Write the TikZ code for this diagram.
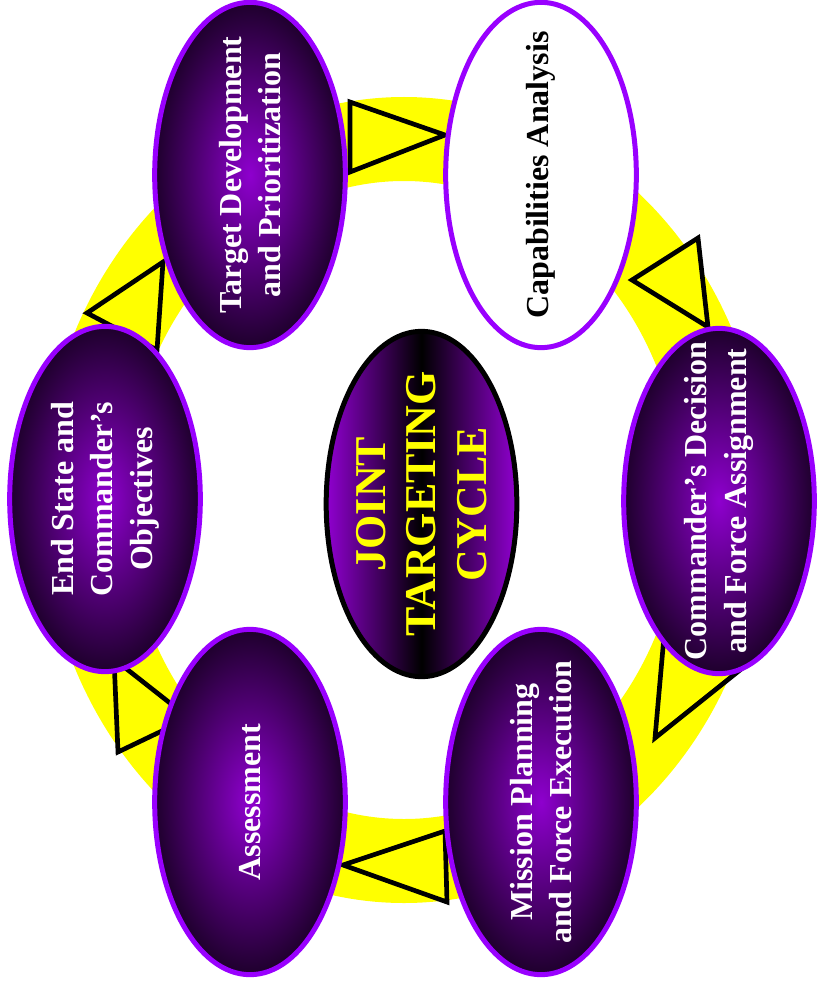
\documentclass[tikz,border=0pt]{standalone}
\usepackage{fontspec}
\setmainfont{Liberation Serif}
\usepackage{tikz}
\usetikzlibrary{shapes, positioning}
\definecolor{ringyellow}{RGB}{255,255,0}
\definecolor{rimviolet}{RGB}{153,0,255}
\definecolor{coreviolet}{RGB}{142,0,206}
\definecolor{deepviolet}{RGB}{30,0,44}
\definecolor{hubviolet}{RGB}{144,0,208}
\tikzset{
    ovalnode/.style = {ellipse, rotate=90, line width=3.75pt, minimum width=259pt, minimum height=143pt, 
      inner sep=-40pt, align=center},
    stagenode/.style = {ovalnode, draw=rimviolet, inner color=coreviolet, outer color=deepviolet, text=white, 
      font=\fontsize{24}{29.5}\selectfont\bfseries},
    whitenode/.style = {ovalnode, draw=rimviolet, fill=white, text=black, font=\fontsize{24}{29.5}\selectfont\bfseries},
    hubnode/.style = {ovalnode, draw=black, left color=hubviolet, right color=hubviolet, middle color=black, 
      text=ringyellow, font=\fontsize{33}{38}\selectfont\bfseries},
    arrowtri/.style = {draw=black, fill=ringyellow, line width=3.5pt, line join=miter},
    every text node part/.style={align=center}
}
\begin{document}
\begin{tikzpicture}[x=0.75pt, y=-0.75pt]
    \useasboundingbox (0,0) rectangle (817,984);
    \fill[ringyellow, even odd rule] (404,500) ellipse [x radius=362, y radius=403] 
      (404,500) ellipse [x radius=278, y radius=319];
    \draw[arrowtri] (350,102) -- (445,135) -- (350,172) -- cycle;
    \draw[arrowtri] (698,238) -- (632,280) -- (708,327) -- cycle;
    \draw[arrowtri] (655,738) -- (665,625) -- (740,670) -- cycle;
    \draw[arrowtri] (343,865) -- (445,831) -- (447,902) -- cycle;
    \draw[arrowtri] (118,752) -- (114,659) -- (189,718) -- cycle;
    \draw[arrowtri] (87,313) -- (163,262) -- (157,350) -- cycle;
    \node[hubnode, name=JT] at (421.5,504) {JOINT\\TARGETING\\CYCLE};
    \node[stagenode, name=TD] at (250,175) {Target Development\\and Prioritization};
    \node[whitenode, name=CA] at (541,175) {Capabilities Analysis};
    \node[stagenode, name=CD] at (719,501) {Commander’s Decision\\and Force Assignment};
    \node[stagenode, name=MP] at (541,802) {Mission Planning\\and Force Execution};
    \node[stagenode, name=AS] at (250,802) {Assessment};
    \node[stagenode, name=ES] at (105,499) {End State and\\Commander’s\\Objectives};
\end{tikzpicture}
\end{document}
